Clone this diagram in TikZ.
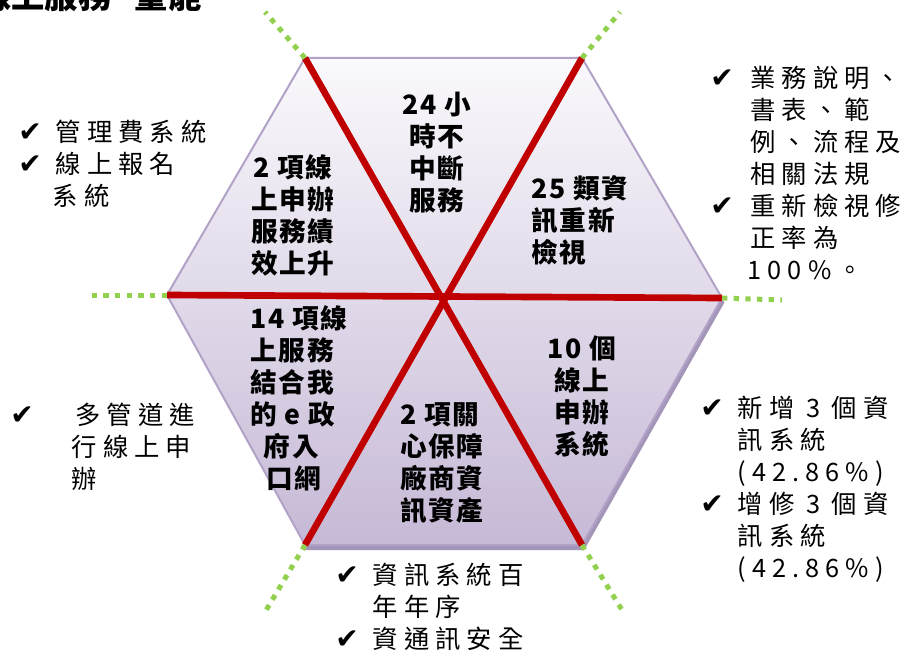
\documentclass[tikz,border=0pt]{standalone}
\usepackage{fontspec}
\setmainfont{Noto Sans CJK TC}
\newfontfamily\chkfont{DejaVu Sans}
\newfontfamily\sidefont[LetterSpace=24]{Noto Sans CJK TC}
\newfontfamily\hexfont[LetterSpace=6]{Noto Sans CJK TC}
\usetikzlibrary{positioning}
\definecolor{hexred}{HTML}{C00000}
\definecolor{dotgreen}{HTML}{92D050}
\definecolor{hexedge}{HTML}{B3A2C7}
\definecolor{hexbevel}{HTML}{A395B8}
\definecolor{hextop}{HTML}{FAF9FC}
\definecolor{hexbot}{HTML}{C6B9D6}
\tikzset{
  spoke/.style={hexred, line width=5pt},
  ray/.style={dotgreen, line width=3.75pt, dash pattern=on 4pt off 4.75pt},
  cell/.style={font=\hexfont\bfseries\fontsize{20}{24}\selectfont, align=center, inner sep=0pt},
  note/.style={font=\sidefont\fontsize{19}{24}\selectfont, align=left, inner sep=0pt, anchor=north west},
}
\newcommand{\ck}[1][28pt]{\makebox[#1][l]{\chkfont\fontsize{21}{24}\selectfont ✔}}
\newcommand{\ind}[1][28pt]{\hspace*{#1}}

\begin{document}
\begin{tikzpicture}[x=0.75pt, y=-0.75pt]
  \useasboundingbox (0,0) rectangle (903,656);

  % corners
  \coordinate (tl) at (305,58);
  \coordinate (tr) at (582,58);
  \coordinate (r) at (722,298);
  \coordinate (br) at (582,545);
  \coordinate (bl) at (305,545);
  \coordinate (l) at (167,295);

  % hexagon
  \shade[top color=hextop, bottom color=hexbot] (tl) -- (tr) -- (r) -- (br) -- (bl) -- (l) -- cycle;
  \draw[hexbevel, line width=3pt] ([shift={(1,3)}]r) -- ([shift={(1,3)}]br) -- ([shift={(0,3)}]bl);
  \draw[hexedge, line width=1.5pt] (tl) -- (tr) -- (r) -- (br) -- (bl) -- (l) -- cycle;

  % spokes
  \draw[spoke] (tl) -- (br);
  \draw[spoke] (tr) -- (bl);
  \draw[spoke] (l) -- (r);

  % rays
  \coordinate (tl-out) at (265,12);
  \coordinate (tr-out) at (620,12);
  \coordinate (r-out) at (782,300);
  \coordinate (br-out) at (622,610);
  \coordinate (bl-out) at (265,612);
  \coordinate (l-out) at (88,295);
  \draw[ray] (tl) -- (tl-out);
  \draw[ray] (tr) -- (tr-out);
  \draw[ray] (r) -- (r-out);
  \draw[ray] (br) -- (br-out);
  \draw[ray] (bl) -- (bl-out);
  \draw[ray] (l) -- (l-out);

  % title
  \node[font=\bfseries\fontsize{25}{30}\selectfont, anchor=base west, inner sep=0pt] (title) at (-22,9) {線上服務\hspace{0.7em}量能};

  % cells
  \node[cell] (hours) at (437,153) {24 小\\時不\\中斷\\服務};
  \node[cell] (apply) at (293,215) {2 項線\\上申辦\\服務績\\效上升};
  \node[cell, align=left] (review) at (580,220) {25 類資\\訊重新\\檢視};
  \node[cell, align=left] (portal) at (299,398) {14 項線\\上服務\\結合我\\的 e 政\\\hspace*{0.5em}府入\\\hspace*{0.6em}口網};
  \node[cell, align=left] (assets) at (442,463) {2 項關\\心保障\\廠商資\\訊資產};
  \node[cell] (systems) at (582,396) {10 個\\線上\\申辦\\系統};

  % notes
  \node[note] (fees) at (18,120) {\ck 管理費系統\\\ck 線上報名\\\ind[26pt]系統};
  \node[note] (channels) at (10,403) {\ck[49pt]多管道進\\\ind[46pt]行線上申\\\ind[46pt]辦};
  \node[note] (docs) at (710,66) {\ck[30pt]業務說明、\\\ind[30pt]書表、範\\\ind[30pt]例、流程及\\\ind[30pt]相關法規\\\ck[30pt]重新檢視修\\\ind[30pt]正率為\\\ind[28pt]100\%。};
  \node[note] (added) at (700,396) {\ck 新增 3 個資\\\ind 訊系統\\\ind (42.86\%)\\\ck 增修 3 個資\\\ind 訊系統\\\ind (42.86\%)};
  \node[note] (security) at (335,563) {\ck 資訊系統百\\\ind 年年序\\\ck 資通訊安全};
\end{tikzpicture}
\end{document}
